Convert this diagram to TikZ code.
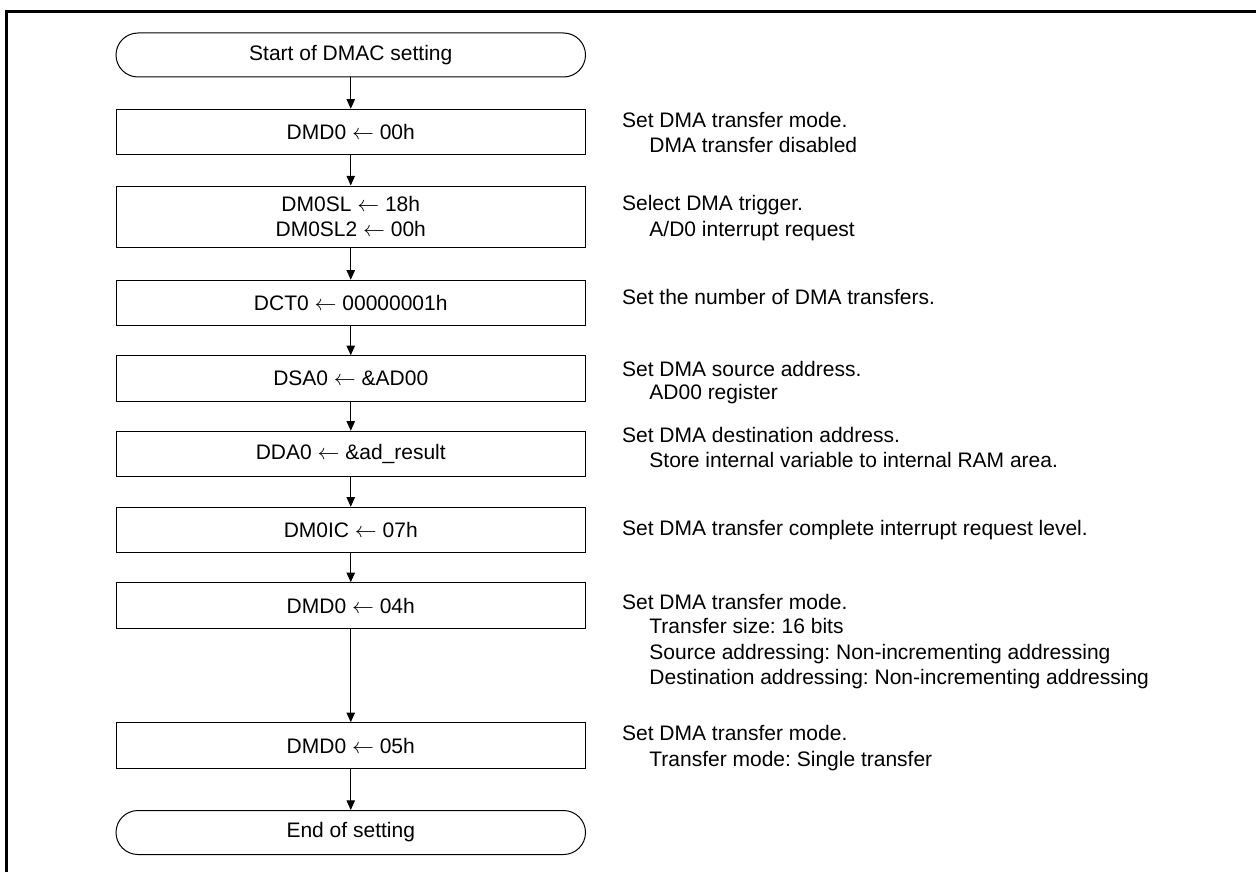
\documentclass[tikz,border=0pt]{standalone}
\usepackage{fontspec}
\setmainfont{Liberation Sans}
\usetikzlibrary{arrows.meta}
\frenchspacing
\tikzset{
  proc/.style={draw=black, line width=0.5pt, rectangle, minimum width=234.75pt, minimum height=22.75pt, inner sep=0pt, align=center},
  term/.style={proc, rounded corners=11pt, minimum height=22pt},
  flow/.style={draw=black, line width=0.5pt, -{Triangle[length=4.8pt,width=4.2pt]}},
  desc/.style={anchor=base west, inner sep=0pt},
  frameline/.style={line width=1.5pt, line cap=butt}
}
\begin{document}
\begin{tikzpicture}[x=0.5pt,y=-0.5pt, font=\fontsize{10.5pt}{12.5pt}\selectfont]
\useasboundingbox (0,0) rectangle (1256,872);
% frame
\coordinate (fb) at (6.5,872);
\coordinate (fc) at (6.5,11.5);
\coordinate (fr) at (1256,11.5);
\draw[frameline] (fb) -- (fc) -- (fr);
% flow nodes
\node[term] (start) at (350.75,55) {Start of DMAC setting};
\node[proc] (b1) at (350.75,132) {DMD0 $\leftarrow$ 00h};
\node[proc, minimum height=30.5pt] (b2) at (350.75,216.5) {DM0SL $\leftarrow$ 18h\\DM0SL2 $\leftarrow$ 00h};
\node[proc] (b3) at (350.75,303) {DCT0 $\leftarrow$ 00000001h};
\node[proc] (b4) at (350.75,378.5) {DSA0 $\leftarrow$ \&AD00};
\node[proc] (b5) at (350.75,454) {DDA0 $\leftarrow$ \&ad\_result};
\node[proc] (b6) at (350.75,530) {DM0IC $\leftarrow$ 07h};
\node[proc] (b7) at (350.75,605.5) {DMD0 $\leftarrow$ 04h};
\node[proc] (b8) at (350.75,745.5) {DMD0 $\leftarrow$ 05h};
\node[term] (end) at (350.75,832.5) {End of setting};
% connectors
\draw[flow] (start) -- (b1);
\draw[flow] (b1) -- (b2);
\draw[flow] (b2) -- (b3);
\draw[flow] (b3) -- (b4);
\draw[flow] (b4) -- (b5);
\draw[flow] (b5) -- (b6);
\draw[flow] (b6) -- (b7);
\draw[flow] (b7) -- (b8);
\draw[flow] (b8) -- (end);
% descriptions
\node[desc] (d1a) at (621.7,127.5) {Set DMA transfer mode.};
\node[desc] (d1b) at (649,152.5) {DMA transfer disabled};
\node[desc] (d2a) at (621.7,210.5) {Select DMA trigger.};
\node[desc] (d2b) at (649,236.5) {A/D0 interrupt request};
\node[desc] (d3a) at (621.7,304.5) {Set the number of DMA transfers.};
\node[desc] (d4a) at (621.7,376.5) {Set DMA source address.};
\node[desc] (d4b) at (649,399.5) {AD00 register};
\node[desc] (d5a) at (621.7,442.5) {Set DMA destination address.};
\node[desc] (d5b) at (649,467.5) {Store internal variable to internal RAM area.};
\node[desc] (d6a) at (621.7,535.5) {Set DMA transfer complete interrupt request level.};
\node[desc] (d7a) at (621.7,609.5) {Set DMA transfer mode.};
\node[desc] (d7b) at (649,633.5) {Transfer size: 16 bits};
\node[desc] (d7c) at (649,659) {Source addressing: Non-incrementing addressing};
\node[desc] (d7d) at (649,684) {Destination addressing: Non-incrementing addressing};
\node[desc] (d8a) at (621.7,740.5) {Set DMA transfer mode.};
\node[desc] (d8b) at (649,766) {Transfer mode: Single transfer};
\end{tikzpicture}
\end{document}
